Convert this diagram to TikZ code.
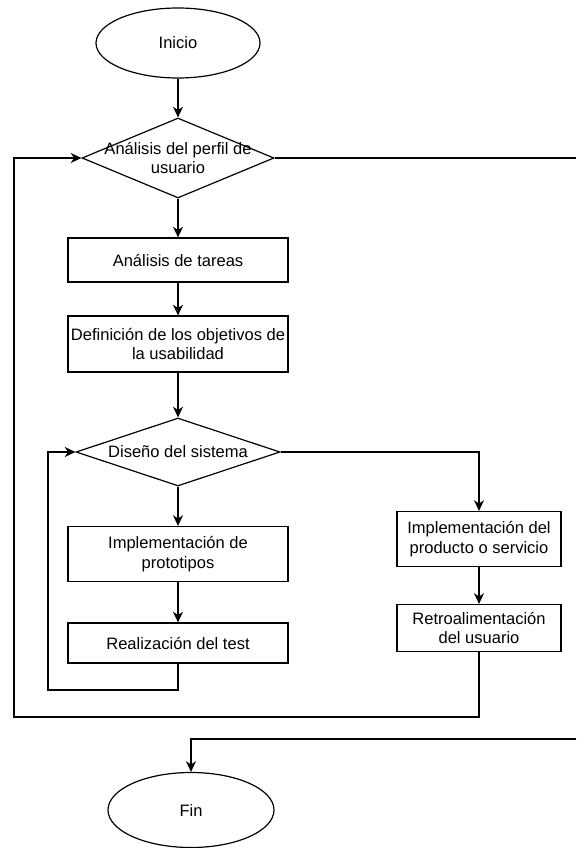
\documentclass[tikz,border=0pt]{standalone}
\usepackage{fontspec}
\setmainfont{Liberation Sans}
\usetikzlibrary{shapes.geometric,arrows.meta}
\newcommand{\flowfont}{\fontsize{12.4}{14.8}\selectfont}
\begin{document}
\begin{tikzpicture}[x=0.75pt,y=-0.75pt,
  conn/.style={draw=black,line width=0.9pt},
  arr/.style={conn,-{Stealth[length=8pt,width=7.5pt,inset=2.5pt]}},
  procbox/.style={rectangle,draw=black,line width=0.9pt,align=center,
    inner sep=0pt,font=\flowfont},
  terminal/.style={ellipse,draw=black,line width=0.9pt,inner sep=0pt,
    font=\flowfont},
  decision/.style={diamond,draw=black,line width=0.9pt,inner sep=0pt},
  dlabel/.style={align=center,inner sep=0pt,font=\flowfont}
]
\useasboundingbox (0,0) rectangle (576,848);

% start / end
\node[terminal,minimum width=123pt,minimum height=52.5pt] (inicio) at (178,43) {Inicio};
\node[terminal,minimum width=124.5pt,minimum height=56.25pt] (fin) at (191,810) {Fin};

% user profile analysis
\node[decision,minimum width=144pt,minimum height=60pt] (d1) at (178,158) {};
\node[dlabel] (d1t) at (178,158) {Análisis del perfil de\\usuario};

% main column
\node[procbox,minimum width=165pt,minimum height=33pt] (b1) at (178,260) {Análisis de tareas};
\node[procbox,minimum width=165pt,minimum height=42pt] (b2) at (178,344) {Definición de los objetivos de\\la usabilidad};
\node[decision,minimum width=153pt,minimum height=51pt] (d2) at (178,452) {};
\node[dlabel] (d2t) at (178,452) {Diseño del sistema};
\node[procbox,minimum width=165pt,minimum height=41.25pt] (b3) at (178,554) {Implementación de\\prototipos};
\node[procbox,minimum width=165pt,minimum height=30pt] (b4) at (178,643) {Realización del test};

% right column
\node[procbox,minimum width=123pt,minimum height=41.25pt] (b5) at (479,539) {Implementación del\\producto o servicio};
\node[procbox,minimum width=123pt,minimum height=35.25pt] (b6) at (479,628) {Retroalimentación\\del usuario};

% loose ends and corners
\coordinate (rtop) at (576,158);
\coordinate (rbot) at (576,739);
\coordinate (innerloop) at (48,690);
\coordinate (outerloop) at (14,717);

% connectors
\draw[arr] (inicio.south) -- (d1.north);
\draw[conn] (d1.east) -- (rtop);
\draw[arr] (d1.south) -- (b1.north);
\draw[arr] (b1.south) -- (b2.north);
\draw[arr] (b2.south) -- (d2.north);
\draw[arr] (d2.south) -- (b3.north);
\draw[arr] (b3.south) -- (b4.north);
\draw[arr] (b4.south) |- (innerloop) |- (d2.west);
\draw[arr] (d2.east) -| (b5.north);
\draw[arr] (b5.south) -- (b6.north);
\draw[arr] (b6.south) |- (outerloop) |- (d1.west);
\draw[arr] (rbot) -| (fin.north);
\end{tikzpicture}
\end{document}
